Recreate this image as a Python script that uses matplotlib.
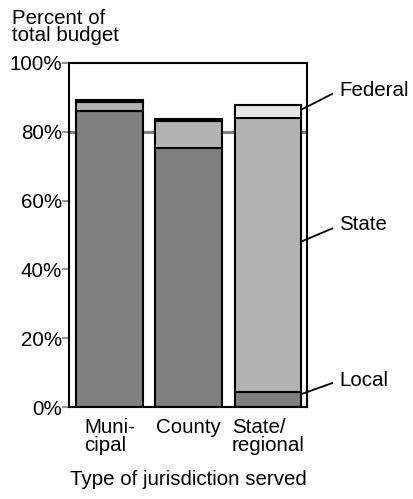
import matplotlib
matplotlib.use("Agg")
import matplotlib.pyplot as plt
import numpy as np

plt.rcParams['font.family'] = ['Liberation Sans', 'DejaVu Sans']

categories = ["Muni-\ncipal", "County", "State/\nregional"]
local = [86.1, 75.2, 4.4]
state = [2.6, 7.9, 79.7]
federal = [0.6, 0.7, 3.6]
yticks = [0, 20, 40, 60, 80, 100]
ytick_labels = ["0%", "20%", "40%", "60%", "80%", "100%"]

FS = 14.8

fig = plt.figure(figsize=(4.13, 4.99), dpi=100)
ax = fig.add_axes([0.167, 0.184, 0.576, 0.690])

x = np.arange(len(categories))
w = 0.84
local_a = np.array(local)
state_a = np.array(state)
fed_a = np.array(federal)

ax.axhline(80, color="#808080", lw=2.2, zorder=0)
ax.bar(x, local_a, w, color="#808080", edgecolor="black", lw=1.5, zorder=2)
ax.bar(x, state_a, w, bottom=local_a, color="#b3b3b3", edgecolor="black", lw=1.5, zorder=2)
ax.bar(x, fed_a, w, bottom=local_a + state_a, color="#e6e6e6", edgecolor="black", lw=1.5, zorder=2)

ax.set_xlim(-0.51, 2.49)
ax.set_ylim(0, 100)
ax.set_yticks(yticks)
ax.set_yticklabels(ytick_labels, fontsize=FS)
ax.set_xticks(x)
ax.set_xticklabels(categories, fontsize=FS, multialignment="left", linespacing=0.9)
ax.tick_params(axis="x", length=0, pad=8)
ax.tick_params(axis="y", length=5, width=1.2, color="#808080", pad=0)
for s in ax.spines.values():
    s.set_linewidth(1.5)

ax.set_xlabel("Type of jurisdiction served", fontsize=FS, labelpad=11)

# series labels on the right
label_names = ["Federal", "State", "Local"]
label_pos = [(2.42, 86.4, 2.81, 91.0, 91.9),
             (2.42, 48.1, 2.81, 51.9, 53.0),
             (2.42, 3.8, 2.81, 7.0, 7.8)]
for name, (x0, y0, x1, y1, ty) in zip(label_names, label_pos):
    ax.plot([x0, x1], [y0, y1], color="black", lw=1.3, clip_on=False, zorder=5)
    ax.text(2.90, ty, name, fontsize=FS, va="center", ha="left")

fig.text(0.029, 0.982, "Percent of\ntotal budget", fontsize=FS, va="top", ha="left",
         linespacing=0.85)

fig.savefig("out.png", dpi=100)
